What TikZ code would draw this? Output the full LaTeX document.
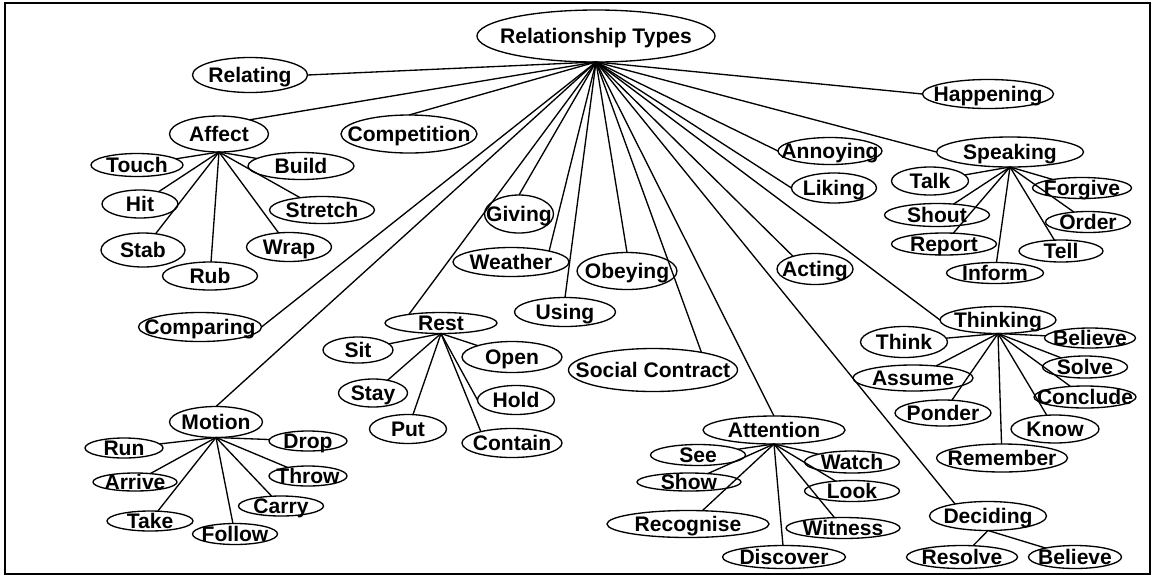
\documentclass[tikz,border=0pt]{standalone}
\usepackage{fontspec}
\setmainfont{Liberation Sans}
\usetikzlibrary{shapes.geometric}
\newcommand{\lbl}[1]{\makebox[0pt]{\raisebox{-.36em}[0pt][0pt]{#1}}}
\tikzset{
  ell/.style 2 args={ellipse, draw, line width=1pt, inner sep=0pt, outer sep=0pt,
    minimum width=#1*0.75pt, minimum height=#2*0.75pt,
    font=\fontsize{15.8}{18}\selectfont\bfseries},
  link/.style={line width=1pt},
}
\begin{document}
\begin{tikzpicture}[x=0.75pt,y=-0.75pt]
\useasboundingbox (0,0) rectangle (1157,576);
\draw[line width=1.2pt] (5,3) rectangle (1150,574);
% nodes
\node[ell={238}{52}] (root) at (596,36) {\lbl{Relationship Types}};
\node[ell={115}{35}] (relating) at (250,75) {\lbl{Relating}};
\node[ell={99}{36}] (affect) at (219,134) {\lbl{Affect}};
\node[ell={136}{38}] (competition) at (409,134) {\lbl{Competition}};
\node[ell={92}{23}] (touch) at (137,165) {\lbl{Touch}};
\node[ell={106}{27}] (build) at (301,166) {\lbl{Build}};
\node[ell={76}{28}] (hit) at (140,204) {\lbl{Hit}};
\node[ell={105}{27}] (stretch) at (322,210) {\lbl{Stretch}};
\node[ell={84}{34}] (stab) at (143,250) {\lbl{Stab}};
\node[ell={85}{29}] (wrap) at (289,247) {\lbl{Wrap}};
\node[ell={95}{28}] (rub) at (210,276) {\lbl{Rub}};
\node[ell={123}{29}] (comparing) at (200,327) {\lbl{Comparing}};
\node[ell={70}{26}] (sit) at (358,350) {\lbl{Sit}};
\node[ell={112}{21}] (rest) at (441,323) {\lbl{Rest}};
\node[ell={69}{38}] (giving) at (519,214) {\lbl{Giving}};
\node[ell={116}{29}] (weather) at (511,262) {\lbl{Weather}};
\node[ell={100}{37}] (obeying) at (627,271) {\lbl{Obeying}};
\node[ell={101}{29}] (using) at (565,312) {\lbl{Using}};
\node[ell={100}{31}] (open) at (512,357) {\lbl{Open}};
\node[ell={169}{43}] (social) at (653,370) {\lbl{Social Contract}};
\node[ell={69}{28}] (stay) at (373,393) {\lbl{Stay}};
\node[ell={77}{29}] (hold) at (516,400) {\lbl{Hold}};
\node[ell={77}{29}] (put) at (408,429) {\lbl{Put}};
\node[ell={100}{29}] (contain) at (512,443) {\lbl{Contain}};
\node[ell={93}{31}] (motion) at (216,422) {\lbl{Motion}};
\node[ell={78}{20}] (run) at (124,448) {\lbl{Run}};
\node[ell={78}{20}] (drop) at (308,441) {\lbl{Drop}};
\node[ell={84}{18}] (arrive) at (135,482) {\lbl{Arrive}};
\node[ell={78}{20}] (throw) at (308,476) {\lbl{Throw}};
\node[ell={85}{20}] (carry) at (281,506) {\lbl{Carry}};
\node[ell={86}{20}] (take) at (150,521) {\lbl{Take}};
\node[ell={85}{21}] (follow) at (235,534) {\lbl{Follow}};
\node[ell={142}{28}] (attention) at (774,430) {\lbl{Attention}};
\node[ell={95}{21}] (see) at (698,455) {\lbl{See}};
\node[ell={104}{18}] (show) at (689,482) {\lbl{Show}};
\node[ell={162}{27}] (recognise) at (688,524) {\lbl{Recognise}};
\node[ell={123}{23}] (discover) at (784,557) {\lbl{Discover}};
\node[ell={95}{22}] (watch) at (852,462) {\lbl{Watch}};
\node[ell={95}{21}] (look) at (852,491) {\lbl{Look}};
\node[ell={114}{21}] (witness) at (843,528) {\lbl{Witness}};
\node[ell={117}{29}] (deciding) at (988,516) {\lbl{Deciding}};
\node[ell={111}{23}] (resolve) at (962,557) {\lbl{Resolve}};
\node[ell={93}{23}] (believeb) at (1075,557) {\lbl{Believe}};
\node[ell={116}{27}] (thinking) at (998,320) {\lbl{Thinking}};
\node[ell={87}{31}] (think) at (904,342) {\lbl{Think}};
\node[ell={91}{20}] (believea) at (1090,338) {\lbl{Believe}};
\node[ell={85}{22}] (solve) at (1085,367) {\lbl{Solve}};
\node[ell={120}{26}] (assume) at (913,378) {\lbl{Assume}};
\node[ell={102}{22}] (conclude) at (1085,397) {\lbl{Conclude}};
\node[ell={96}{26}] (ponder) at (943,413) {\lbl{Ponder}};
\node[ell={88}{28}] (know) at (1055,429) {\lbl{Know}};
\node[ell={131}{28}] (remember) at (1002,458) {\lbl{Remember}};
\node[ell={147}{30}] (speaking) at (1010,152) {\lbl{Speaking}};
\node[ell={131}{29}] (happening) at (988,94) {\lbl{Happening}};
\node[ell={104}{27}] (annoying) at (830,151) {\lbl{Annoying}};
\node[ell={85}{30}] (liking) at (834,188) {\lbl{Liking}};
\node[ell={77}{28}] (talk) at (930,181) {\lbl{Talk}};
\node[ell={99}{21}] (forgive) at (1082,188) {\lbl{Forgive}};
\node[ell={105}{23}] (shout) at (937,215) {\lbl{Shout}};
\node[ell={85}{21}] (order) at (1088,222) {\lbl{Order}};
\node[ell={105}{22}] (report) at (944,244) {\lbl{Report}};
\node[ell={84}{22}] (tell) at (1061,251) {\lbl{Tell}};
\node[ell={97}{21}] (inform) at (995,273) {\lbl{Inform}};
\node[ell={76}{31}] (acting) at (815,269) {\lbl{Acting}};
% hubs
\coordinate (hR) at (root.south);
\coordinate (hA) at (affect.south);
\coordinate (hRe) at (rest.south);
\coordinate (hM) at (motion.south);
\coordinate (hAt) at (attention.south);
\coordinate (hD) at (deciding.south);
\coordinate (hT) at (thinking.south);
\coordinate (hS) at (speaking.south);
% root links
\draw[link] (hR) -- (relating.east);
\draw[link] (hR) -- (affect.25);
\draw[link] (hR) -- (competition.north);
\draw[link] (hR) -- (comparing.east);
\draw[link] (hR) -- (motion.north);
\draw[link] (hR) -- (rest.165);
\draw[link] (hR) -- (giving.north);
\draw[link] (hR) -- (weather.16);
\draw[link] (hR) -- (using.north);
\draw[link] (hR) -- (obeying.north);
\draw[link] (hR) -- (social.20);
\draw[link] (hR) -- (attention.north);
\draw[link] (hR) -- (deciding.160);
\draw[link] (hR) -- (acting.150);
\draw[link] (hR) -- (thinking.west);
\draw[link] (hR) -- (liking.west);
\draw[link] (hR) -- (annoying.west);
\draw[link] (hR) -- (speaking.west);
\draw[link] (hR) -- (happening.west);
% affect
\foreach \c in {touch,build,hit,stretch,stab,wrap,rub} \draw[link] (hA) -- (\c);
% rest
\foreach \c in {sit,open,stay,put} \draw[link] (hRe) -- (\c);
\draw[link] (hRe) -- (hold.west);
\draw[link] (hRe) -- (contain.160);
% motion
\foreach \c in {run,drop,arrive,throw,carry,take,follow} \draw[link] (hM) -- (\c);
% attention
\foreach \c in {see,show,recognise,discover,watch,look,witness} \draw[link] (hAt) -- (\c);
% deciding
\foreach \c in {resolve,believeb} \draw[link] (hD) -- (\c);
% thinking
\foreach \c in {think,believea,solve,assume,conclude,ponder,know,remember} \draw[link] (hT) -- (\c);
% speaking
\foreach \c in {talk,forgive,shout,order,report,tell,inform} \draw[link] (hS) -- (\c);
\end{tikzpicture}
\end{document}
